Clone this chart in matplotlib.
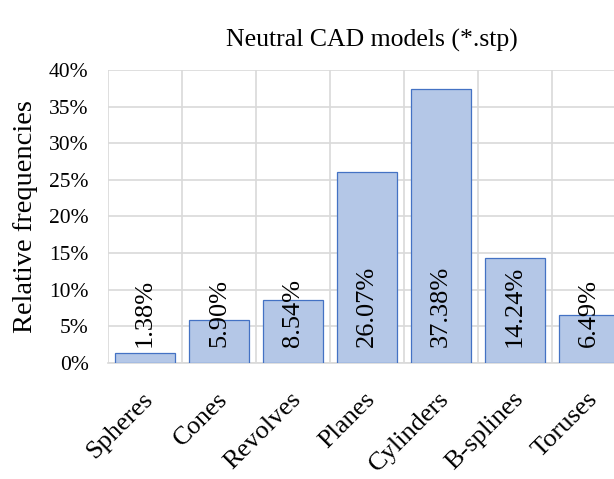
import matplotlib
matplotlib.use("Agg")
import matplotlib.pyplot as plt
import matplotlib.transforms as mtransforms
import numpy as np
from matplotlib.ticker import FixedLocator, PercentFormatter

# Surface types found in the neutral CAD files and their relative frequencies (%)
surface_types = ["Spheres", "Cones", "Revolves", "Planes", "Cylinders", "B-splines", "Toruses"]
frequencies = [1.38, 5.90, 8.54, 26.07, 37.38, 14.24, 6.49]
y_ticks = [0, 5, 10, 15, 20, 25, 30, 35, 40]

SERIF = "Liberation Serif"
BAR_FILL = "#B4C7E7"
BAR_EDGE = "#4472C4"
GRID = "#D9D9D9"

fig = plt.figure(figsize=(6.14, 4.79), dpi=100)
# plot area runs slightly past the right edge of the figure
ax = fig.add_axes([0.1759, 0.2428, 0.8436, 0.6111])

x = np.arange(len(surface_types))
ax.bar(x, frequencies, width=0.82, color=BAR_FILL, edgecolor=BAR_EDGE,
       linewidth=0.9, zorder=3)

ax.set_xlim(-0.5, len(surface_types) - 0.5)
ax.set_ylim(0, 40)
ax.yaxis.set_major_locator(FixedLocator(y_ticks))
ax.yaxis.set_major_formatter(PercentFormatter(decimals=0))
ax.xaxis.set_minor_locator(FixedLocator(np.arange(-0.5, len(surface_types), 1.0)))
ax.set_xticks([])

ax.grid(axis="y", which="major", color=GRID, linewidth=1.2, zorder=0)
ax.grid(axis="x", which="minor", color=GRID, linewidth=1.2, zorder=0)
ax.tick_params(which="both", length=0)
ax.tick_params(axis="y", pad=14, labelsize=15.5)
for lbl in ax.get_yticklabels():
    lbl.set_fontfamily(SERIF)

for side in ("top", "right", "left"):
    ax.spines[side].set_visible(False)
ax.spines["bottom"].set_color(GRID)
ax.spines["bottom"].set_linewidth(1.2)

# category names, rotated 45 degrees and anchored at their right end
label_offset = mtransforms.ScaledTranslation(5 / 100, -33 / 100, fig.dpi_scale_trans)
label_trans = mtransforms.blended_transform_factory(ax.transData, ax.transAxes) + label_offset
for xi, name in zip(x, surface_types):
    ax.text(xi, 0, name, transform=label_trans, rotation=45, rotation_mode="anchor",
            ha="right", va="center", fontsize=19, family=SERIF, clip_on=False)

# value labels written vertically inside each bar
value_offset = mtransforms.ScaledTranslation(0, 16 / 100, fig.dpi_scale_trans)
for xi, val in zip(x, frequencies):
    ax.text(xi, 0, f"{val:.2f}%", transform=ax.transData + value_offset,
            rotation=90, ha="center", va="bottom", fontsize=19, family=SERIF, zorder=4)

ax.set_ylabel("Relative frequencies", fontsize=20.5, family=SERIF, labelpad=8)
ax.set_title("Neutral CAD models (*.stp)", fontsize=18.5, family=SERIF, pad=17, x=0.51)

fig.savefig("out.png", dpi=100)
